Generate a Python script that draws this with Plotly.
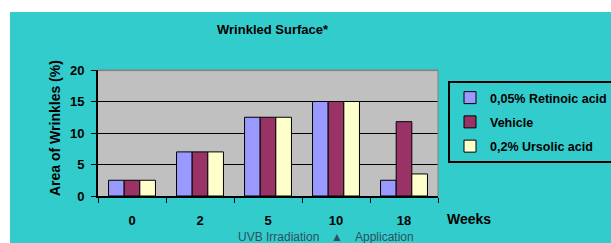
import plotly.graph_objects as go

weeks = ["0", "2", "5", "10", "18"]
retinoic = [2.5, 7.0, 12.5, 15.0, 2.5]
vehicle = [2.5, 7.0, 12.5, 15.0, 11.8]
ursolic = [2.5, 7.0, 12.5, 15.0, 3.5]
series_names = ["0,05% Retinoic acid", "Vehicle", "0,2% Ursolic acid"]
y_ticks = [0, 5, 10, 15, 20]

W, H = 611, 243
L, R, T, B = 98, 438, 70, 196
FONT = "Arial, Liberation Sans, sans-serif"
TEAL = "#33CCCC"

def px(x):
    return (x - L) / (R - L)

def py(y):
    return (B - y) / (B - T)

fig = go.Figure()
colors = ["#9999FF", "#993366", "#FFFFCC"]
for i, (name, vals) in enumerate(zip(series_names, [retinoic, vehicle, ursolic])):
    fig.add_trace(go.Bar(
        x=weeks, y=vals, name=name, legendgroup=str(i),
        marker=dict(color=colors[i], line=dict(color="black", width=1)),
    ))

def ann(text, x, y, size, color="black", angle=0):
    return dict(text=text, xref="paper", yref="paper", x=px(x), y=py(y),
                xanchor="center", yanchor="middle", showarrow=False, textangle=angle,
                font=dict(family=FONT, size=size, color=color))

fig.update_layout(
    width=W, height=H,
    margin=dict(l=L, r=W - R, t=T, b=H - B, pad=0, autoexpand=False),
    paper_bgcolor=TEAL, plot_bgcolor="#C0C0C0",
    barmode="group", bargap=0.31, bargroupgap=0,
    font=dict(family=FONT, size=12, color="black"),
    showlegend=True,
    legend=dict(
        xref="container", yref="container",
        x=448 / W, y=1 - 81 / H, xanchor="left", yanchor="top",
        bgcolor=TEAL, bordercolor="black", borderwidth=2,
        font=dict(family=FONT, size=12.5, color="black", weight="bold"),
        tracegroupgap=5, itemwidth=30,
    ),
    xaxis=dict(
        type="category", tickson="boundaries", ticks="outside", ticklen=5,
        tickcolor="black", tickwidth=1, showline=True, linecolor="black", linewidth=2,
        showgrid=False, tickfont=dict(size=13, weight="bold"), ticklabelstandoff=11,
        fixedrange=True,
    ),
    yaxis=dict(
        range=[0, 20], tickvals=y_ticks, ticks="outside", ticklen=5,
        tickcolor="black", showline=True, linecolor="black", linewidth=2,
        showgrid=True, gridcolor="black", gridwidth=1, zeroline=False,
        tickfont=dict(size=13, weight="bold"), ticklabelstandoff=4,
        fixedrange=True,
    ),
    shapes=[
        dict(type="rect", xref="paper", yref="paper", x0=px(-2), x1=px(W + 2), y0=py(-2), y1=py(12),
             fillcolor="white", line=dict(width=0), layer="above"),
        dict(type="rect", xref="paper", yref="paper", x0=px(-2), x1=px(10), y0=py(-2), y1=py(H + 2),
             fillcolor="white", line=dict(width=0), layer="above"),
        dict(type="rect", xref="paper", yref="paper", x0=0, x1=1, y0=0.995, y1=1,
             fillcolor="rgba(0,0,0,0)", line=dict(color="#808080", width=1), layer="above"),
        dict(type="line", xref="paper", yref="paper", x0=1, x1=1, y0=0, y1=1,
             line=dict(color="#808080", width=1), layer="above"),
    ],
    annotations=[
        ann("<b>Wrinkled Surface*</b>", 273, 29, 13),
        ann("<b>Area of Wrinkles (%)</b>", 55, 128, 14, angle=-90),
        ann("<b>Weeks</b>", 469, 219, 14),
        ann("UVB Irradiation", 278, 237, 12, color="#2F4F5F"),
        ann("\u25B2", 337, 237, 12, color="#2F4F5F"),
        ann("Application", 384, 237, 12, color="#2F4F5F"),
    ],
)

fig.write_html("out.html", config={"displayModeBar": False},
               post_script="document.body.style.margin='0';document.body.style.overflow='hidden';")
